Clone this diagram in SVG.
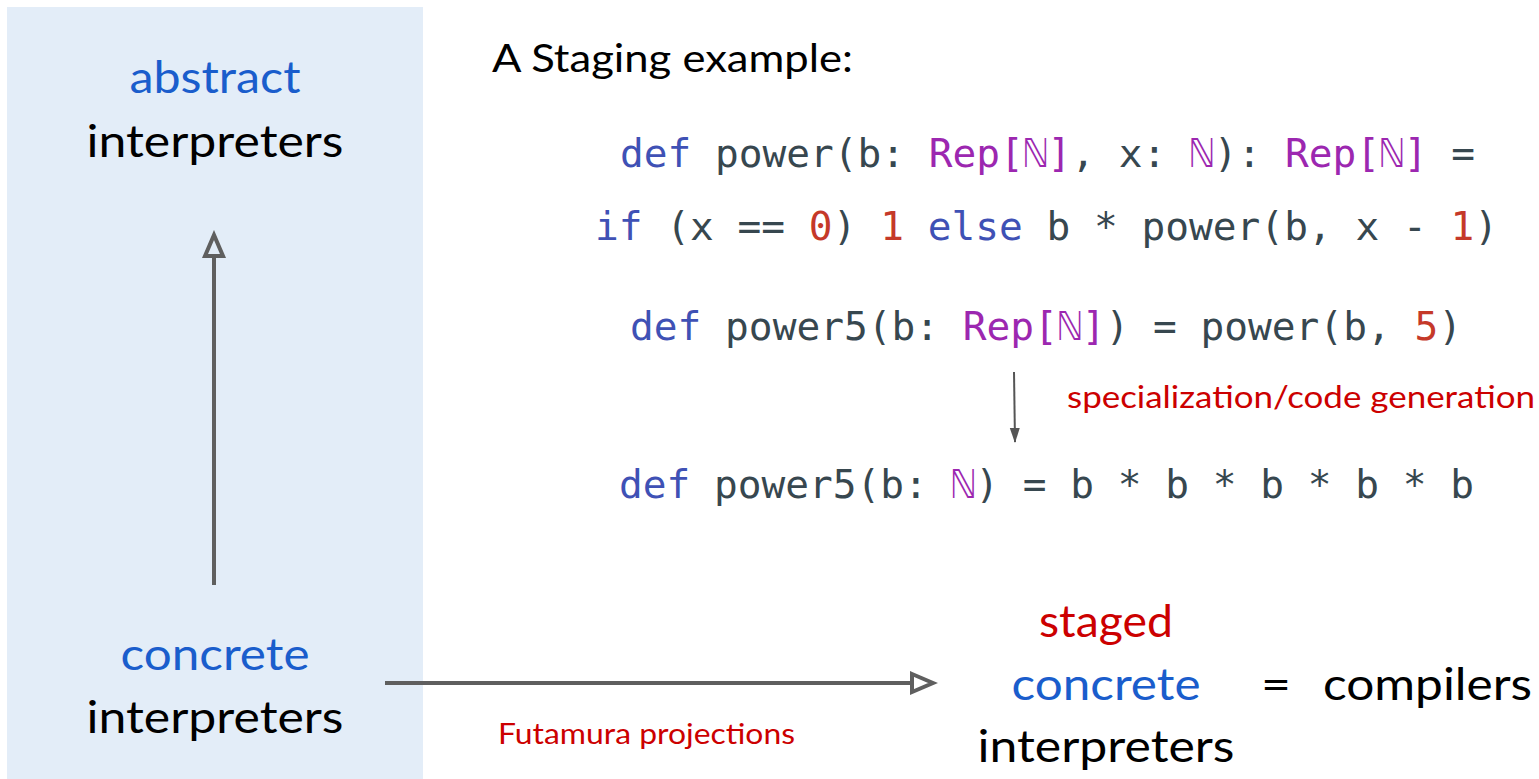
<svg xmlns="http://www.w3.org/2000/svg" width="1539" height="779" viewBox="0 0 1539 779">
  <style>
    .sans { font-family: Lato, "Open Sans", "Liberation Sans", sans-serif; }
    .big { font-size: 44px; }
    .blue { fill: #1a5dcc; }
    .red { fill: #cc0000; }
    .ink { fill: #000000; }
    .code { font-family: "DejaVu Sans Mono", "Liberation Mono", monospace; font-size: 39.5px; fill: #37474f; white-space: pre; }
    .kw { fill: #3f51b5; }
    .ty { fill: #9c27b0; }
    .num { fill: #c53929; }
    .conn { stroke: #5f5f5f; stroke-width: 4; fill: none; }
    .thin { stroke: #555555; stroke-width: 2; fill: none; }
  </style>
  <defs>
    <!-- hollow triangular head; the line stops at its base -->
    <marker id="openHead" markerUnits="userSpaceOnUse" markerWidth="28" markerHeight="26" viewBox="-2 -2 28 26" refX="0" refY="10" orient="auto">
      <path d="M0,1 L21,10 L0,19 Z" fill="none" stroke="#5f5f5f" stroke-width="4" stroke-linejoin="miter"/>
    </marker>
    <marker id="smallHead" markerUnits="userSpaceOnUse" markerWidth="16" markerHeight="12" viewBox="0 0 16 12" refX="14" refY="6" orient="auto">
      <path d="M0,1 L15,6 L0,11 Z" fill="#555555"/>
    </marker>
  </defs>

  <!-- interpreter panel -->
  <rect id="panel" x="7" y="7" width="416" height="772" fill="#e3edf8"/>

  <g id="abstract-interpreters" class="sans big" text-anchor="middle">
    <text x="215" y="93" class="blue" textLength="171" lengthAdjust="spacingAndGlyphs">abstract</text>
    <text x="215" y="157" class="ink" textLength="257" lengthAdjust="spacingAndGlyphs">interpreters</text>
  </g>

  <g id="concrete-interpreters" class="sans big" text-anchor="middle">
    <text x="215" y="670" class="blue" textLength="189" lengthAdjust="spacingAndGlyphs">concrete</text>
    <text x="215" y="733" class="ink" textLength="257" lengthAdjust="spacingAndGlyphs">interpreters</text>
  </g>

  <g id="staged-interpreters" class="sans big" text-anchor="middle">
    <text x="1106" y="637" class="red" textLength="134" lengthAdjust="spacingAndGlyphs">staged</text>
    <text x="1106" y="700" class="blue" textLength="189" lengthAdjust="spacingAndGlyphs">concrete</text>
    <text x="1106" y="762" class="ink" textLength="257" lengthAdjust="spacingAndGlyphs">interpreters</text>
  </g>

  <g id="compilers" class="sans big ink">
    <text x="1261" y="700" textLength="30" lengthAdjust="spacingAndGlyphs">=</text>
    <text x="1323" y="700" textLength="209" lengthAdjust="spacingAndGlyphs">compilers</text>
  </g>

  <!-- staging example -->
  <g id="staging-example">
    <text x="492" y="72" class="sans ink" font-size="38" textLength="361" lengthAdjust="spacingAndGlyphs">A Staging example:</text>
    <text x="620" y="167" class="code" textLength="855" lengthAdjust="spacingAndGlyphs"><tspan class="kw">def</tspan> power(b: <tspan class="ty">Rep[ℕ]</tspan>, x: <tspan class="ty">ℕ</tspan>): <tspan class="ty">Rep[ℕ]</tspan> =</text>
    <text x="595" y="240" class="code" textLength="903" lengthAdjust="spacingAndGlyphs"><tspan class="kw">if</tspan> (x == <tspan class="num">0</tspan>) <tspan class="num">1</tspan> <tspan class="kw">else</tspan> b * power(b, x - <tspan class="num">1</tspan>)</text>
    <text x="630" y="340" class="code" textLength="832" lengthAdjust="spacingAndGlyphs"><tspan class="kw">def</tspan> power5(b: <tspan class="ty">Rep[ℕ]</tspan>) = power(b, <tspan class="num">5</tspan>)</text>
    <text x="619" y="498" class="code" textLength="855" lengthAdjust="spacingAndGlyphs"><tspan class="kw">def</tspan> power5(b: <tspan class="ty">ℕ</tspan>) = b * b * b * b * b</text>
  </g>

  <g id="connectors">
    <line class="conn" x1="214" y1="585" x2="214" y2="256" marker-end="url(#openHead)"/>
    <line class="conn" x1="385" y1="683" x2="912" y2="683" marker-end="url(#openHead)"/>
    <line class="thin" x1="1014" y1="372" x2="1015" y2="442" marker-end="url(#smallHead)"/>
  </g>

  <g id="labels" class="sans red">
    <text x="1067" y="408" font-size="30" textLength="468" lengthAdjust="spacingAndGlyphs">specialization/code generation</text>
    <text x="498" y="744" font-size="28" textLength="297" lengthAdjust="spacingAndGlyphs">Futamura projections</text>
  </g>
</svg>
